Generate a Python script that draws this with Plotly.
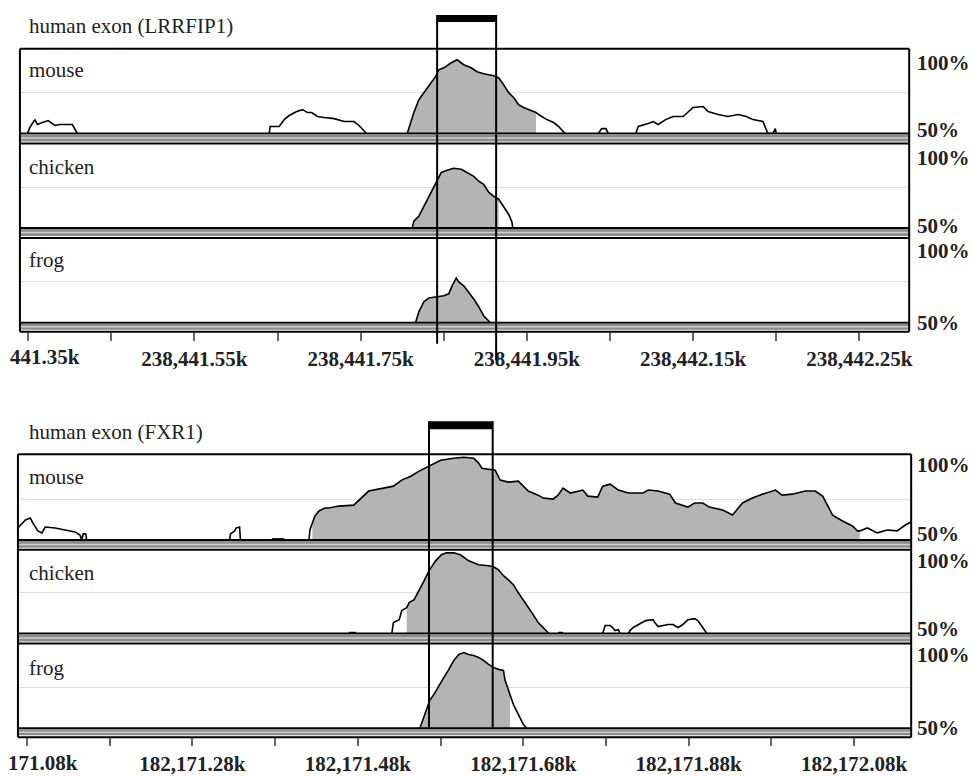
import plotly.graph_objects as go

W, H = 972, 776

# ---------------- LRRFIP1 region ----------------
lr_tickvals = [238441350 + 100 * i for i in range(11)]
lr_ticktext = ["", "", "238,441.55k", "", "238,441.75k", "", "238,441.95k", "", "238,442.15k", "", "238,442.25k"]
lr_first_label = "441.35k"
lr_range = [238441340, 238442410]
lr_exon = [238441842, 238441913]

lr_mouse_pos = [238441349, 238441352, 238441358, 238441361, 238441367, 238441374, 238441382, 238441388, 238441403, 238441409, None,
                238441640, 238441641, 238441652, 238441658, 238441664, 238441673, 238441680, 238441686, 238441691, 238441698,
                238441706, 238441718, 238441730, 238441742, 238441748, 238441757, None,
                238441806, 238441814, 238441820, 238441830, 238441840, 238441844, 238441850, 238441859, 238441866, 238441874,
                238441883, 238441890, 238441898, 238441910, 238441916, 238441922, 238441928, 238441934, 238441940, 238441946,
                238441961, 238441964, 238441974, 238441982, 238441988, 238441996, None,
                238442036, 238442040, 238442045, 238442048, None,
                238442081, 238442084, 238442096, 238442102, 238442108, 238442117, 238442126, 238442138, 238442150, 238442162,
                238442168, 238442180, 238442192, 238442204, 238442214, 238442222, 238442234, 238442240, 238442246, 238442249, 238442250]
lr_mouse_val = [50, 53.7, 58.5, 55.5, 56.7, 57.9, 54.9, 55.5, 55.5, 50, None,
                50, 54.3, 54.3, 58.5, 61.0, 63.4, 64.6, 62.8, 62.8, 60.4,
                59.8, 59.1, 57.3, 57.3, 54.9, 50, None,
                50, 62.8, 70.7, 78.0, 84.8, 89.0, 90.2, 93.3, 95.1, 92.1,
                90.2, 87.8, 86.6, 85.4, 84.1, 79.9, 75.0, 72.0, 67.7, 65.9,
                62.8, 61.6, 58.5, 56.7, 54.3, 50, None,
                50, 53.0, 53.0, 50, None,
                50, 54.3, 56.1, 57.3, 55.5, 58.5, 60.4, 60.4, 65.9, 66.5,
                63.4, 61.6, 60.4, 61.6, 60.4, 58.5, 57.3, 50, 50, 53.0, 50]
lr_mouse_cns = [238441806, 238441961]

lr_chicken_pos = [238441812, 238441814, 238441820, 238441826, 238441832, 238441838, 238441842, 238441847, 238441854, 238441862,
                  238441871, 238441878, 238441886, 238441892, 238441898, 238441904, 238441910, 238441916, 238441922, 238441928,
                  238441932, 238441933]
lr_chicken_val = [50, 54.3, 57.3, 63.4, 69.5, 75.6, 79.9, 84.1, 85.4, 86.6,
                  86.0, 84.1, 81.7, 78.7, 76.8, 72.0, 69.5, 67.7, 63.4, 58.5,
                  53.7, 50]
lr_chicken_cns = [238441812, 238441916]

lr_frog_pos = [238441816, 238441820, 238441826, 238441832, 238441842, 238441850, 238441856, 238441860, 238441865, 238441868,
               238441874, 238441880, 238441886, 238441892, 238441898, 238441906]
lr_frog_val = [50, 56.7, 62.8, 65.2, 65.9, 66.5, 67.7, 72.6, 77.4, 75.0,
               72.6, 68.9, 64.6, 59.8, 54.3, 50]
lr_frog_cns = [238441816, 238441906]

# ---------------- FXR1 region ----------------
fx_tickvals = [182171080 + 100 * i for i in range(11)]
fx_ticktext = ["", "", "182,171.28k", "", "182,171.48k", "", "182,171.68k", "", "182,171.88k", "", "182,172.08k"]
fx_first_label = "171.08k"
fx_range = [182171069, 182172149]
fx_exon = [182171566, 182171643]

fx_mouse_pos = [182171069, 182171078, 182171084, 182171087, 182171093, 182171098, 182171102, 182171114, 182171126, 182171138,
                182171144, 182171146, 182171148, 182171151, 182171152, None,
                182171325, 182171326, 182171331, 182171333, 182171337, 182171338, None,
                182171376, 182171391, None,
                182171421, 182171422, 182171425, 182171428, 182171433, 182171440, 182171445, 182171457, 182171475, 182171484,
                182171493, 182171511, 182171523, 182171533, 182171544, 182171554, 182171563, 182171572, 182171580, 182171596,
                182171608, 182171620, 182171626, 182171630, 182171638, 182171646, 182171652, 182171662, 182171674, 182171680,
                182171686, 182171698, 182171704, 182171716, 182171722, 182171728, 182171737, 182171752, 182171758, 182171770,
                182171776, 182171785, 182171795, 182171807, 182171825, 182171831, 182171843, 182171857, 182171864, 182171879,
                182171887, 182171897, 182171905, 182171921, 182171933, 182171945, 182171957, 182171969, 182171985, 182171993,
                182172005, 182172021, 182172033, 182172042, 182172054, 182172066, 182172078, 182172084, 182172087, 182172096,
                182172108, 182172120, 182172132, 182172142, 182172149]
fx_mouse_val = [57.3, 62.2, 63.4, 60.4, 55.5, 54.3, 57.9, 57.3, 56.1, 54.9,
                53.0, 50, 53.7, 53.7, 50, None,
                50, 53.7, 55.5, 57.3, 57.9, 50, None,
                50.6, 50.6, None,
                50, 56.1, 60.4, 64.6, 67.7, 69.5, 69.5, 70.7, 71.3, 75.6,
                79.9, 81.7, 82.9, 86.6, 89.0, 92.1, 94.5, 97.0, 98.8, 100.0,
                100.6, 100.0, 97.0, 93.9, 93.3, 92.7, 86.6, 85.4, 86.0, 82.9,
                79.9, 77.4, 75.6, 75.0, 77.4, 81.7, 78.7, 80.5, 76.8, 76.2,
                82.9, 84.1, 80.5, 78.7, 78.7, 80.5, 79.9, 78.0, 72.6, 70.1,
                72.6, 72.6, 70.1, 68.3, 65.2, 72.6, 75.6, 78.0, 80.5, 77.4,
                78.0, 79.9, 79.9, 76.8, 65.2, 61.6, 58.5, 55.5, 55.5, 57.3,
                54.3, 56.1, 55.5, 59.1, 61.0]
fx_mouse_cns = [182171425, 182172087]

fx_chicken_pos = [182171469, 182171478, None,
                  182171521, 182171523, 182171530, 182171533, 182171539, 182171542, 182171548, 182171554, 182171560, 182171566,
                  182171574, 182171581, 182171587, 182171596, 182171604, 182171614, 182171626, 182171638, 182171644, 182171650,
                  182171656, 182171662, 182171668, 182171674, 182171680, 182171686, 182171692, 182171698, 182171704, 182171708,
                  182171711, None,
                  182171722, 182171728, None,
                  182171776, 182171779, 182171785, 182171788, 182171791, 182171795, 182171797, None,
                  182171807, 182171809, 182171813, 182171819, 182171828, 182171837, 182171839, 182171843, 182171855, 182171861,
                  182171867, 182171873, 182171879, 182171887, 182171891, 182171897, 182171901, 182171902]
fx_chicken_val = [50.6, 50.6, None,
                  50, 56.7, 58.5, 64.0, 65.9, 68.9, 70.7, 76.2, 82.3, 88.4,
                  94.5, 98.2, 99.4, 99.4, 98.2, 94.5, 92.1, 91.5, 90.9, 89.0,
                  85.4, 82.9, 79.9, 75.0, 70.7, 65.9, 61.6, 56.7, 53.7, 51.8,
                  50, None,
                  50.6, 50.6, None,
                  50, 54.9, 54.9, 53.7, 51.8, 52.4, 50, None,
                  50, 51.8, 53.7, 55.5, 57.9, 58.5, 56.7, 54.3, 55.5, 55.5,
                  53.7, 55.5, 58.5, 59.1, 57.9, 53.7, 50.6, 50]
fx_chicken_cns = [182171539, 182171711]

fx_frog_pos = [182171555, 182171560, 182171563, 182171567, 182171572, 182171578, 182171584, 182171590, 182171596, 182171602,
               182171608, 182171614, 182171620, 182171626, 182171632, 182171638, 182171644, 182171650, 182171656, 182171658,
               182171662, 182171664, 182171668, 182171674, 182171680, 182171684]
fx_frog_val = [50, 56.7, 61.0, 67.1, 70.7, 76.2, 81.1, 86.0, 91.5, 95.1,
               96.3, 95.1, 94.5, 93.3, 91.5, 89.0, 87.2, 86.0, 85.4, 79.3,
               73.8, 70.1, 64.6, 58.5, 52.4, 50]
fx_frog_cns = [182171555, 182171664]

species = ["mouse", "chicken", "frog"]

# ---------------- layout geometry (pixels) ----------------
def PX(v):
    return v / W

def PY(v):
    return 1 - v / H

blocks = [
    dict(title="human exon (LRRFIP1)", title_base=33, left=20, right=912,
         tops=[49, 144, 239], bases=[134, 229, 324], box_bottom=333,
         hundred=[70, 165, 259], fifty=[137, 233, 331], label_base=[77, 174, 268],
         exon=lr_exon, exon_y=[15, 22], exon_line_end=[345, 362],
         xr=lr_range, tickvals=lr_tickvals, ticktext=lr_ticktext, first=lr_first_label, first_right=82,
         tick_base=365,
         data=[(lr_mouse_pos, lr_mouse_val, lr_mouse_cns), (lr_chicken_pos, lr_chicken_val, lr_chicken_cns),
               (lr_frog_pos, lr_frog_val, lr_frog_cns)]),
    dict(title="human exon (FXR1)", title_base=440, left=18, right=914,
         tops=[456, 552, 646], bases=[542, 636, 731], box_bottom=740,
         hundred=[473, 570, 664], fifty=[543, 638, 737], label_base=[485, 582, 677],
         exon=fx_exon, exon_y=[423, 431], exon_line_end=[731, 731],
         xr=fx_range, tickvals=fx_tickvals, ticktext=fx_ticktext, first=fx_first_label, first_right=80,
         tick_base=773,
         data=[(fx_mouse_pos, fx_mouse_val, fx_mouse_cns), (fx_chicken_pos, fx_chicken_val, fx_chicken_cns),
               (fx_frog_pos, fx_frog_val, fx_frog_cns)]),
]

PPP = 1.64  # pixels per percent
FONT = "Liberation Serif, Times New Roman, serif"
TXT = "#222222"

fig = go.Figure()
layout = dict(width=W, height=H, margin=dict(l=0, r=0, t=0, b=0), showlegend=False,
              plot_bgcolor="white", paper_bgcolor="white")
shapes = []
annotations = []

yi = 0
for bi, b in enumerate(blocks):
    xname = "xaxis" if bi == 0 else "xaxis2"
    xref = "x" if bi == 0 else "x2"
    layout[xname] = dict(domain=[PX(b["left"]), PX(b["right"])], range=b["xr"], anchor="free",
                         position=PY(b["box_bottom"]), tickmode="array", tickvals=b["tickvals"],
                         ticktext=b["ticktext"], ticks="outside", ticklen=8, tickwidth=1.5,
                         tickcolor="#666666", showgrid=False, zeroline=False, showline=False,
                         tickfont=dict(family=FONT, size=21, color=TXT, weight="bold"),
                         ticklabelstandoff=0)
    for si in range(3):
        yi += 1
        yname = "yaxis" if yi == 1 else f"yaxis{yi}"
        yref = "y" if yi == 1 else f"y{yi}"
        top, base = b["tops"][si], b["bases"][si]
        layout[yname] = dict(domain=[PY(base), PY(top)], range=[50, 50 + (base - top) / PPP], anchor=xref,
                             tickvals=[75], showticklabels=False, ticks="", showgrid=True,
                             gridcolor="#dddddd", gridwidth=1, zeroline=False, showline=False)
        pos, val, cns = b["data"][si]
        # conserved-region shading
        fx_ = [p for p in pos if p is not None and cns[0] <= p <= cns[1]]
        fy_ = [v for p, v in zip(pos, val) if p is not None and cns[0] <= p <= cns[1]]
        fig.add_trace(go.Scatter(x=fx_, y=fy_, mode="lines", line=dict(width=0, color="#b4b4b4"),
                                 fill="tozeroy", fillcolor="#b4b4b4", xaxis=xref, yaxis=yref, hoverinfo="skip"))
        fig.add_trace(go.Scatter(x=pos, y=val, mode="lines", line=dict(width=1.6, color="black"),
                                 connectgaps=False, xaxis=xref, yaxis=yref, hoverinfo="skip"))
        # panel top line and baseline
        shapes.append(dict(type="line", xref="paper", yref="paper", x0=PX(b["left"]), x1=PX(b["right"]),
                           y0=PY(top), y1=PY(top), line=dict(color="black", width=2), layer="above"))
        shapes.append(dict(type="line", xref="paper", yref="paper", x0=PX(b["left"]), x1=PX(b["right"]),
                           y0=PY(base), y1=PY(base), line=dict(color="black", width=2), layer="above"))
        band_end = b["tops"][si + 1] if si < 2 else b["box_bottom"]
        shapes.append(dict(type="rect", xref="paper", yref="paper", x0=PX(b["left"]), x1=PX(b["right"]),
                           y0=PY(base + 1), y1=PY(band_end - 2), fillcolor="#8c8c8c", line=dict(width=0),
                           layer="above"))
        mid = (base + 1 + band_end - 2) / 2
        shapes.append(dict(type="line", xref="paper", yref="paper", x0=PX(b["left"]), x1=PX(b["right"]),
                           y0=PY(mid), y1=PY(mid), line=dict(color="#d0d0d0", width=1.5), layer="above"))
        # species label
        annotations.append(dict(xref="paper", yref="paper", x=PX(27), y=PY(b["label_base"][si] - 6.6),
                                xanchor="left", yanchor="middle", showarrow=False, text=species[si],
                                font=dict(family=FONT, size=21, color=TXT)))
        annotations.append(dict(xref="paper", yref="paper", x=PX(918), y=PY(b["hundred"][si] - 6.6),
                                xanchor="left", yanchor="middle", showarrow=False, text="100%",
                                font=dict(family=FONT, size=21, color=TXT, weight="bold")))
        annotations.append(dict(xref="paper", yref="paper", x=PX(918), y=PY(b["fifty"][si] - 6.6),
                                xanchor="left", yanchor="middle", showarrow=False, text="50%",
                                font=dict(family=FONT, size=21, color=TXT, weight="bold")))
    # outer box
    shapes.append(dict(type="line", xref="paper", yref="paper", x0=PX(b["left"]), x1=PX(b["right"]),
                       y0=PY(b["box_bottom"]), y1=PY(b["box_bottom"]), line=dict(color="black", width=2),
                       layer="above"))
    for xx in (b["left"], b["right"]):
        shapes.append(dict(type="line", xref="paper", yref="paper", x0=PX(xx), x1=PX(xx),
                           y0=PY(b["tops"][0]), y1=PY(b["box_bottom"]), line=dict(color="black", width=2),
                           layer="above"))
    # exon marker
    e0, e1 = b["exon"]
    shapes.append(dict(type="rect", xref=xref, yref="paper", x0=e0, x1=e1,
                       y0=PY(b["exon_y"][1]), y1=PY(b["exon_y"][0]), fillcolor="black",
                       line=dict(width=0), layer="above"))
    for ex, yend in zip((e0, e1), b["exon_line_end"]):
        shapes.append(dict(type="line", xref=xref, yref="paper", x0=ex, x1=ex,
                           y0=PY(b["exon_y"][0]), y1=PY(yend),
                           line=dict(color="black", width=2), layer="above"))
    # title
    annotations.append(dict(xref="paper", yref="paper", x=PX(27), y=PY(b["title_base"] - 6.6),
                            xanchor="left", yanchor="middle", showarrow=False, text=b["title"],
                            font=dict(family=FONT, size=21, color=TXT)))
    # first (partially clipped) tick label
    annotations.append(dict(xref="paper", yref="paper", x=PX(b["first_right"]), y=PY(b["tick_base"] - 6.6),
                            xanchor="right", yanchor="middle", showarrow=False, text=b["first"],
                            font=dict(family=FONT, size=21, color=TXT, weight="bold")))

layout["shapes"] = shapes
layout["annotations"] = annotations
fig.update_layout(**layout)
fig.write_html("out.html", config={"displayModeBar": False},
               post_script="document.body.style.margin='0';document.body.style.overflow='hidden';")
